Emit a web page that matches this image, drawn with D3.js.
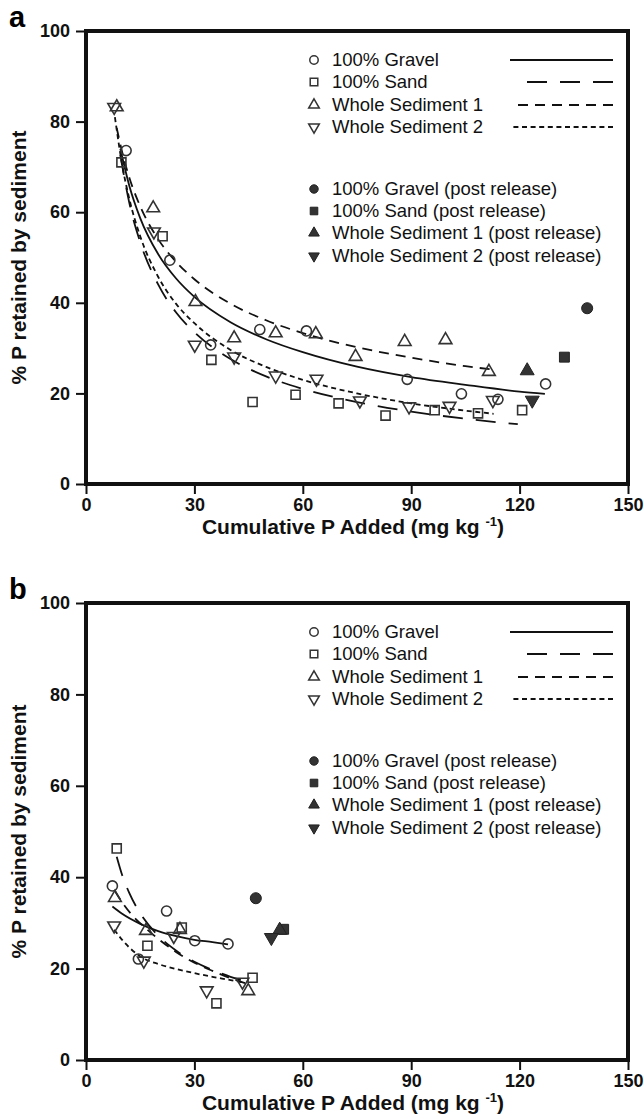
<!DOCTYPE html>
<html>
<head>
<meta charset="utf-8">
<script src="https://cdn.jsdelivr.net/npm/d3@7"></script>
<style>
  body { margin: 0; background: #fff; }
  text { font-family: "Liberation Sans", Arial, sans-serif; }
</style>
</head>
<body>
<div id="chart"></div>
<script>
// P retention vs cumulative P added, two panels (a, b)

const xTicks = [0, 30, 60, 90, 120, 150];
const yTicks = [0, 20, 40, 60, 80, 100];
const seriesNames = ['100% Gravel', '100% Sand', 'Whole Sediment 1', 'Whole Sediment 2'];
const postNames = ['100% Gravel (post release)', '100% Sand (post release)',
                   'Whole Sediment 1 (post release)', 'Whole Sediment 2 (post release)'];

// panel a - measured points
const aGravelX = [11.1, 23.2, 34.5, 48.1, 61.0, 88.9, 103.9, 114.0, 127.2];
const aGravelY = [73.6, 49.4, 30.7, 34.1, 33.8, 23.1, 19.9, 18.7, 22.1];
const aSandX = [9.8, 21.2, 34.7, 46.1, 58.0, 69.9, 82.9, 96.5, 108.5, 120.7];
const aSandY = [71.0, 54.7, 27.4, 18.1, 19.7, 17.8, 15.1, 16.3, 15.6, 16.3];
const aWs1X = [8.5, 18.6, 30.3, 41.0, 52.5, 63.6, 74.6, 88.2, 99.5, 111.5];
const aWs1Y = [83.2, 60.9, 40.2, 32.2, 33.3, 33.1, 28.1, 31.4, 31.8, 24.8];
const aWs2X = [7.8, 18.8, 30.1, 41.0, 52.5, 63.8, 75.8, 89.4, 100.6, 112.6];
const aWs2Y = [83.2, 55.7, 30.7, 28.1, 23.9, 23.2, 18.4, 17.1, 17.2, 18.5];
// panel a - post release (gravel, sand, ws1, ws2)
const aPostX = [138.7, 132.4, 122.1, 123.5];
const aPostY = [38.8, 28.0, 25.0, 18.5];
// panel a - fitted curves
const aGravelFitX = [9.5, 12, 15, 20, 25, 30, 40, 50, 60, 75, 90, 105, 120, 127];
const aGravelFitY = [74.0, 65.8, 58.7, 50.7, 45.3, 41.3, 35.7, 31.9, 29.1, 25.9, 23.6, 21.9, 20.4, 19.9];
const aSandFitX = [9.5, 12, 15, 20, 25, 30, 40, 50, 60, 75, 90, 105, 119.5];
const aSandFitY = [72.6, 62.0, 53.4, 44.0, 37.8, 33.5, 27.6, 23.7, 21.0, 18.1, 16.0, 14.4, 13.2];
const aWs1FitX = [8.5, 10, 12, 15, 20, 25, 30, 40, 50, 60, 75, 90, 105, 113.5];
const aWs1FitY = [78.6, 73.3, 67.6, 61.3, 54.0, 49.0, 45.2, 39.8, 36.1, 33.3, 30.2, 27.9, 26.0, 25.2];
const aWs2FitX = [8, 10, 12, 15, 20, 25, 30, 40, 50, 60, 75, 90, 105, 112.8];
const aWs2FitY = [81.0, 70.5, 62.9, 54.7, 45.7, 39.7, 35.5, 29.6, 25.8, 23.0, 20.0, 17.8, 16.2, 15.5];

// panel b - measured points
const bGravelX = [7.3, 14.5, 22.3, 30.1, 39.3];
const bGravelY = [38.1, 22.1, 32.6, 26.1, 25.4];
const bSandX = [8.5, 17.0, 26.5, 36.1, 46.1];
const bSandY = [46.3, 25.0, 29.0, 12.4, 18.0];
const bWs1X = [8.0, 16.6, 26.0, 44.9];
const bWs1Y = [35.5, 28.3, 28.5, 15.1];
const bWs2X = [7.8, 16.0, 24.3, 33.4, 43.3];
const bWs2Y = [29.4, 21.7, 27.1, 15.2, 17.1];
const bPostX = [47.0, 54.7, 53.6, 51.3];
const bPostY = [35.4, 28.6, 28.4, 26.8];
// panel b - fitted curves
const bGravelFitX = [7.3, 10, 15, 20, 25, 30, 35, 39.3];
const bGravelFitY = [33.6, 32.0, 29.8, 28.2, 27.1, 26.3, 25.8, 25.3];
const bSandFitX = [8.5, 10, 12, 15, 20, 25, 30, 35, 40, 46];
const bSandFitY = [44.5, 40.5, 36.5, 32.1, 27.2, 23.9, 21.5, 19.7, 18.2, 16.8];
const bWs1FitX = [8, 10, 13, 16, 20, 25, 30, 35, 40, 44.9];
const bWs1FitY = [37.0, 34.5, 31.5, 29.2, 26.5, 23.6, 21.3, 19.5, 17.9, 16.6];
const bWs2FitX = [7.8, 10, 12, 15.8, 20, 25, 30, 35, 40, 43.3];
const bWs2FitY = [28.5, 26.3, 24.6, 22.3, 21.0, 19.9, 19.0, 18.2, 17.5, 17.0];

// styles
const symbols = [d3.symbolCircle, d3.symbolSquare, d3.symbolTriangle, d3.symbolTriangle];
const symSize = [80, 82, 70, 70];
const symRotate = [0, 0, 0, 180];
const dashes = [null, '20,13', '10,7', '5,3.6'];
const legendLineStart = [510, 527, 518, 513];
const ink = '#333';

const svgWidth = 644, svgHeight = 1119;
const svg = d3.select('#chart').append('svg')
    .attr('width', svgWidth)
    .attr('height', svgHeight);

const zip = (xs, ys) => xs.map((x, i) => ({ x: x, y: ys[i] }));

const panels = [
  {
    letter: 'a', top: 31, bottom: 484,
    points: [zip(aGravelX, aGravelY), zip(aSandX, aSandY), zip(aWs1X, aWs1Y), zip(aWs2X, aWs2Y)],
    post: zip(aPostX, aPostY),
    fits: [zip(aGravelFitX, aGravelFitY), zip(aSandFitX, aSandFitY), zip(aWs1FitX, aWs1FitY), zip(aWs2FitX, aWs2FitY)]
  },
  {
    letter: 'b', top: 603, bottom: 1060,
    points: [zip(bGravelX, bGravelY), zip(bSandX, bSandY), zip(bWs1X, bWs1Y), zip(bWs2X, bWs2Y)],
    post: zip(bPostX, bPostY),
    fits: [zip(bGravelFitX, bGravelFitY), zip(bSandFitX, bSandFitY), zip(bWs1FitX, bWs1FitY), zip(bWs2FitX, bWs2FitY)]
  }
];

const left = 86, right = 628;

panels.forEach(p => {
  const x = d3.scaleLinear().domain([0, 150]).range([left, right]);
  const y = d3.scaleLinear().domain([0, 100]).range([p.bottom, p.top]);
  const g = svg.append('g');

  // axes
  const yAxis = g.append('g')
      .attr('transform', `translate(${left},0)`)
      .call(d3.axisLeft(y).tickValues(yTicks).tickSize(10).tickPadding(6));
  const xAxis = g.append('g')
      .attr('transform', `translate(0,${p.bottom})`)
      .call(d3.axisBottom(x).tickValues(xTicks).tickSize(10).tickPadding(4));
  [yAxis, xAxis].forEach(a => {
    a.select('.domain').remove();
    a.selectAll('line').attr('stroke', '#111').attr('stroke-width', 2);
    a.selectAll('text')
      .attr('fill', '#111')
      .style('font-size', '18px')
      .style('font-weight', 'bold');
  });

  // frame
  g.append('rect')
      .attr('x', left).attr('y', p.top)
      .attr('width', right - left).attr('height', p.bottom - p.top)
      .attr('fill', 'none').attr('stroke', '#111').attr('stroke-width', 4);

  // fitted curves
  const line = d3.line().x(d => x(d.x)).y(d => y(d.y)).curve(d3.curveMonotoneX);
  p.fits.forEach((f, i) => {
    g.append('path')
        .attr('d', line(f))
        .attr('fill', 'none')
        .attr('stroke', '#111')
        .attr('stroke-width', 1.8)
        .attr('stroke-dasharray', dashes[i]);
  });

  // open markers
  p.points.forEach((pts, i) => {
    g.selectAll(null).data(pts).enter().append('path')
        .attr('d', d3.symbol().type(symbols[i]).size(symSize[i]))
        .attr('transform', d => `translate(${x(d.x)},${y(d.y)}) rotate(${symRotate[i]})`)
        .attr('fill', 'none')
        .attr('stroke', ink)
        .attr('stroke-width', 1.6);
  });

  // post release (filled)
  p.post.forEach((d, i) => {
    g.append('path')
        .attr('d', d3.symbol().type(symbols[i]).size(symSize[i] * 1.2)())
        .attr('transform', `translate(${x(d.x)},${y(d.y)}) rotate(${symRotate[i]})`)
        .attr('fill', ink)
        .attr('stroke', '#222')
        .attr('stroke-width', 1);
  });

  // legend
  const rowY = [29, 51, 74, 96];
  const postRowY = [158, 180, 202, 225];
  seriesNames.forEach((name, i) => {
    const yy = p.top + rowY[i];
    g.append('path')
        .attr('d', d3.symbol().type(symbols[i]).size(symSize[i] * 0.7)())
        .attr('transform', `translate(314,${yy}) rotate(${symRotate[i]})`)
        .attr('fill', 'none').attr('stroke', ink).attr('stroke-width', 1.5);
    g.append('text')
        .attr('x', 332).attr('y', yy + 6)
        .style('font-size', '18.5px')
        .attr('fill', '#111')
        .text(name);
    g.append('line')
        .attr('x1', 613).attr('x2', legendLineStart[i])
        .attr('y1', yy).attr('y2', yy)
        .attr('stroke', '#111').attr('stroke-width', 1.8)
        .attr('stroke-dasharray', dashes[i]);
  });
  postNames.forEach((name, i) => {
    const yy = p.top + postRowY[i];
    g.append('path')
        .attr('d', d3.symbol().type(symbols[i]).size(symSize[i] * 0.7)())
        .attr('transform', `translate(314,${yy}) rotate(${symRotate[i]})`)
        .attr('fill', ink).attr('stroke', '#222').attr('stroke-width', 1);
    g.append('text')
        .attr('x', 332).attr('y', yy + 6)
        .style('font-size', '18.5px')
        .attr('fill', '#111')
        .text(name);
  });

  // panel letter
  g.append('text')
      .attr('x', 9).attr('y', p.top - 4)
      .style('font-size', '29px').style('font-weight', 'bold')
      .text(p.letter);

  // axis titles
  const xt = g.append('text')
      .attr('x', (left + right) / 2 - 4).attr('y', p.bottom + 50)
      .attr('text-anchor', 'middle')
      .style('font-size', '21px').style('font-weight', 'bold')
      .attr('fill', '#111');
  xt.append('tspan').text('Cumulative P Added (mg kg ');
  xt.append('tspan').attr('dy', -8).style('font-size', '13px').text('-1');
  xt.append('tspan').attr('dy', 8).text(')');

  g.append('text')
      .attr('transform', `translate(26,${(p.top + p.bottom) / 2}) rotate(-90)`)
      .attr('text-anchor', 'middle')
      .style('font-size', '21px').style('font-weight', 'bold')
      .attr('fill', '#111')
      .text('%  P retained by sediment');
});
</script>
</body>
</html>
